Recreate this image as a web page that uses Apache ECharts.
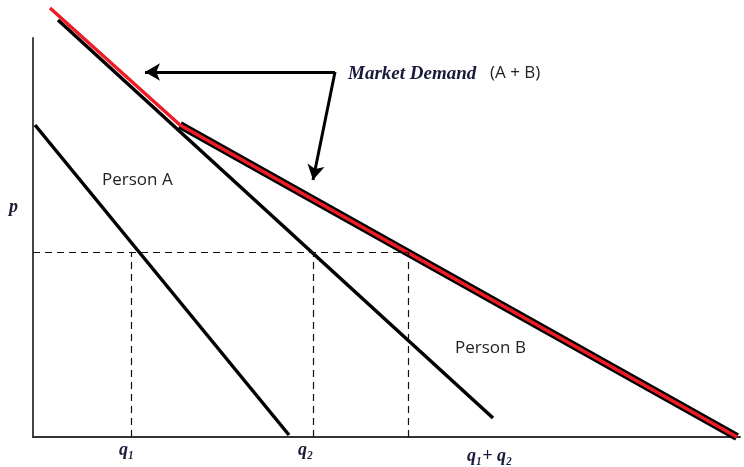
<!DOCTYPE html>
<html>
<head>
<meta charset="utf-8">
<script src="https://cdn.jsdelivr.net/npm/echarts@6/dist/echarts.min.js"></script>
<style>
    html, body { margin: 0; padding: 0; background: #fff; }
    #main { width: 744px; height: 467px; }
</style>
</head>
<body>
<div id="main"></div>
<script>
// quantity / price points of each demand curve (units)
var personA = [[2, 312], [256, 2]];
var personB = [[25, 417], [460, 19]];
var market = [[17, 429], [147, 312], [704, 0]];
var marketOutline = [[147, 312], [704, 0]];
var priceLevel = 185;
var q1 = 98, q2 = 280, q12 = 375;
var arrowFrom = [302, 365];
var arrowTo = [[112, 365], [280, 257]];

var chart = echarts.init(document.getElementById('main'));

var dashStyle = { color: '#111', width: 1.2, type: [7, 5] };
var mathFont = 'italic bold 18px "Liberation Serif"';
var plainFont = '17px "Open Sans"';

function seg(a, b) {
    return [{ coord: a }, { coord: b }];
}

var option = {
    animation: false,
    grid: { left: 33, right: 4, top: 38, bottom: 30 },
    xAxis: {
        type: 'value', min: 0, max: 707,
        axisLine: { lineStyle: { color: '#333', width: 2 } },
        axisTick: { show: false }, axisLabel: { show: false }, splitLine: { show: false }
    },
    yAxis: {
        type: 'value', min: 0, max: 399,
        axisLine: { show: true, lineStyle: { color: '#444', width: 2 } },
        axisTick: { show: false }, axisLabel: { show: false }, splitLine: { show: false }
    },
    series: [
        {
            type: 'line', data: [], silent: true,
            markLine: {
                silent: true, symbol: 'none', label: { show: false },
                lineStyle: dashStyle,
                data: [
                    seg([0, priceLevel], [q12, priceLevel]),
                    seg([q1, 0], [q1, priceLevel]),
                    seg([q2, 0], [q2, priceLevel]),
                    seg([q12, 0], [q12, priceLevel])
                ]
            }
        },
        {
            name: 'Person A', type: 'line', data: personA, symbol: 'none', clip: false,
            lineStyle: { color: '#000', width: 3.5 }
        },
        {
            name: 'Person B', type: 'line', data: personB, symbol: 'none', clip: false,
            lineStyle: { color: '#000', width: 3.5 }
        },
        {
            type: 'line', data: marketOutline, symbol: 'none', clip: false,
            lineStyle: { color: '#000', width: 8 }
        },
        {
            name: 'Market Demand', type: 'line', data: market, symbol: 'none', clip: false,
            lineStyle: { color: '#ee1c24', width: 3.5 },
            markLine: {
                silent: true, symbol: ['none', 'arrow'], symbolSize: [13, 15],
                label: { show: false },
                lineStyle: { color: '#000', width: 3, type: 'solid' },
                data: [
                    seg(arrowFrom, arrowTo[0]),
                    seg(arrowFrom, arrowTo[1])
                ]
            }
        }
    ],
    graphic: [
        { type: 'text', left: 348, top: 65, style: { text: 'Market Demand', font: 'italic bold 19px "Liberation Serif"', fill: '#1a1a3a' } },
        { type: 'text', left: 490, top: 65, style: { text: '(A + B)', font: plainFont, fill: '#222' } },
        { type: 'text', left: 102, top: 172, style: { text: 'Person A', font: plainFont, fill: '#222' } },
        { type: 'text', left: 455, top: 340, style: { text: 'Person B', font: plainFont, fill: '#222' } },
        { type: 'text', left: 9, top: 198, style: { text: 'p', font: mathFont, fill: '#1a1a3a' } },
        { type: 'text', left: 119, top: 441, style: { text: 'q\u2081', font: mathFont, fill: '#1a1a3a' } },
        { type: 'text', left: 298, top: 441, style: { text: 'q\u2082', font: mathFont, fill: '#1a1a3a' } },
        { type: 'text', left: 467, top: 447, style: { text: 'q\u2081+ q\u2082', font: mathFont, fill: '#1a1a3a' } }
    ]
};

chart.setOption(option);
</script>
</body>
</html>
